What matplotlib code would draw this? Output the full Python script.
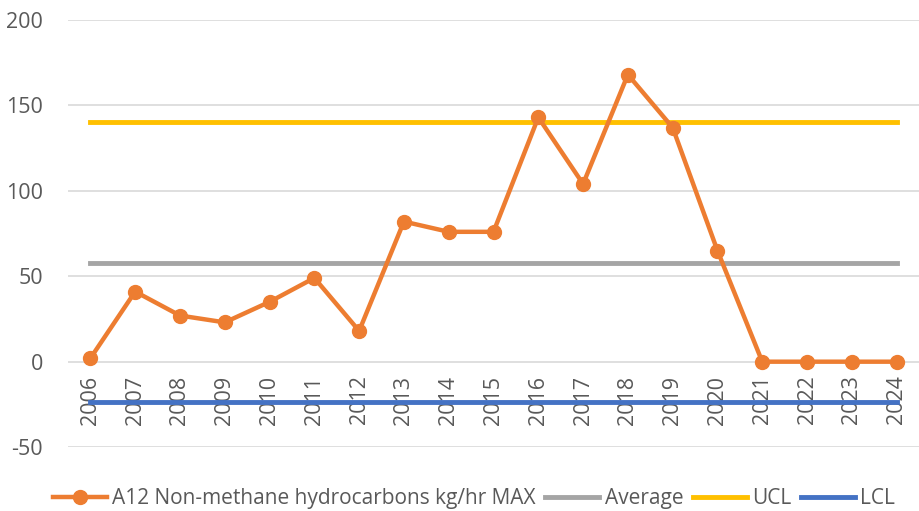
import numpy as np
import matplotlib.pyplot as plt

plt.rcParams['font.family'] = ['Open Sans', 'DejaVu Sans']
plt.rcParams['axes.unicode_minus'] = False

years = [str(y) for y in range(2006, 2025)]
nmhc = [2, 41, 27, 23, 35, 49, 18, 82, 76, 76, 143, 104, 168, 137, 65, 0, 0, 0, 0]
average = 58
ucl = 140.5
lcl = -23.5

grey_txt = '#595959'

fig = plt.figure(figsize=(9.19, 5.11), dpi=100)
ax = fig.add_axes([0.074, 0.125, 0.926, 0.836])

x = np.arange(len(years))
n = len(years)
ax.plot(x, nmhc, color='#ED7D31', lw=3.2, marker='o', ms=10, label='A12 Non-methane hydrocarbons kg/hr MAX', zorder=5)
ax.plot(x, [average] * n, color='#A5A5A5', lw=3.5, label='Average', zorder=3)
ax.plot(x, [ucl] * n, color='#FFC000', lw=3.5, label='UCL', zorder=3)
ax.plot(x, [lcl] * n, color='#4472C4', lw=3.5, label='LCL', zorder=3)

ax.set_xlim(-0.5, n - 0.5)
ax.set_ylim(-50, 200)
ax.set_yticks(range(-50, 201, 50))
ax.grid(axis='y', color='#D9D9D9', lw=1.2)
ax.set_axisbelow(True)

for s in ['top', 'right', 'left']:
    ax.spines[s].set_visible(False)
ax.spines['bottom'].set_position(('data', 0))
ax.spines['bottom'].set_visible(False)

ax.set_xticks(x)
ax.set_xticklabels(years, rotation=90, fontsize=15.5, color=grey_txt)
ax.tick_params(axis='x', length=0, pad=10)
ax.tick_params(axis='y', length=0, pad=18, labelsize=15.5, labelcolor=grey_txt)

ax.legend(loc='center', bbox_to_anchor=(0.477, -0.12), ncol=4, frameon=False,
          fontsize=15, labelcolor=grey_txt, handlelength=2.6, columnspacing=0.45,
          handletextpad=0.25, borderaxespad=0, borderpad=0)

fig.savefig('out.png', dpi=100)
